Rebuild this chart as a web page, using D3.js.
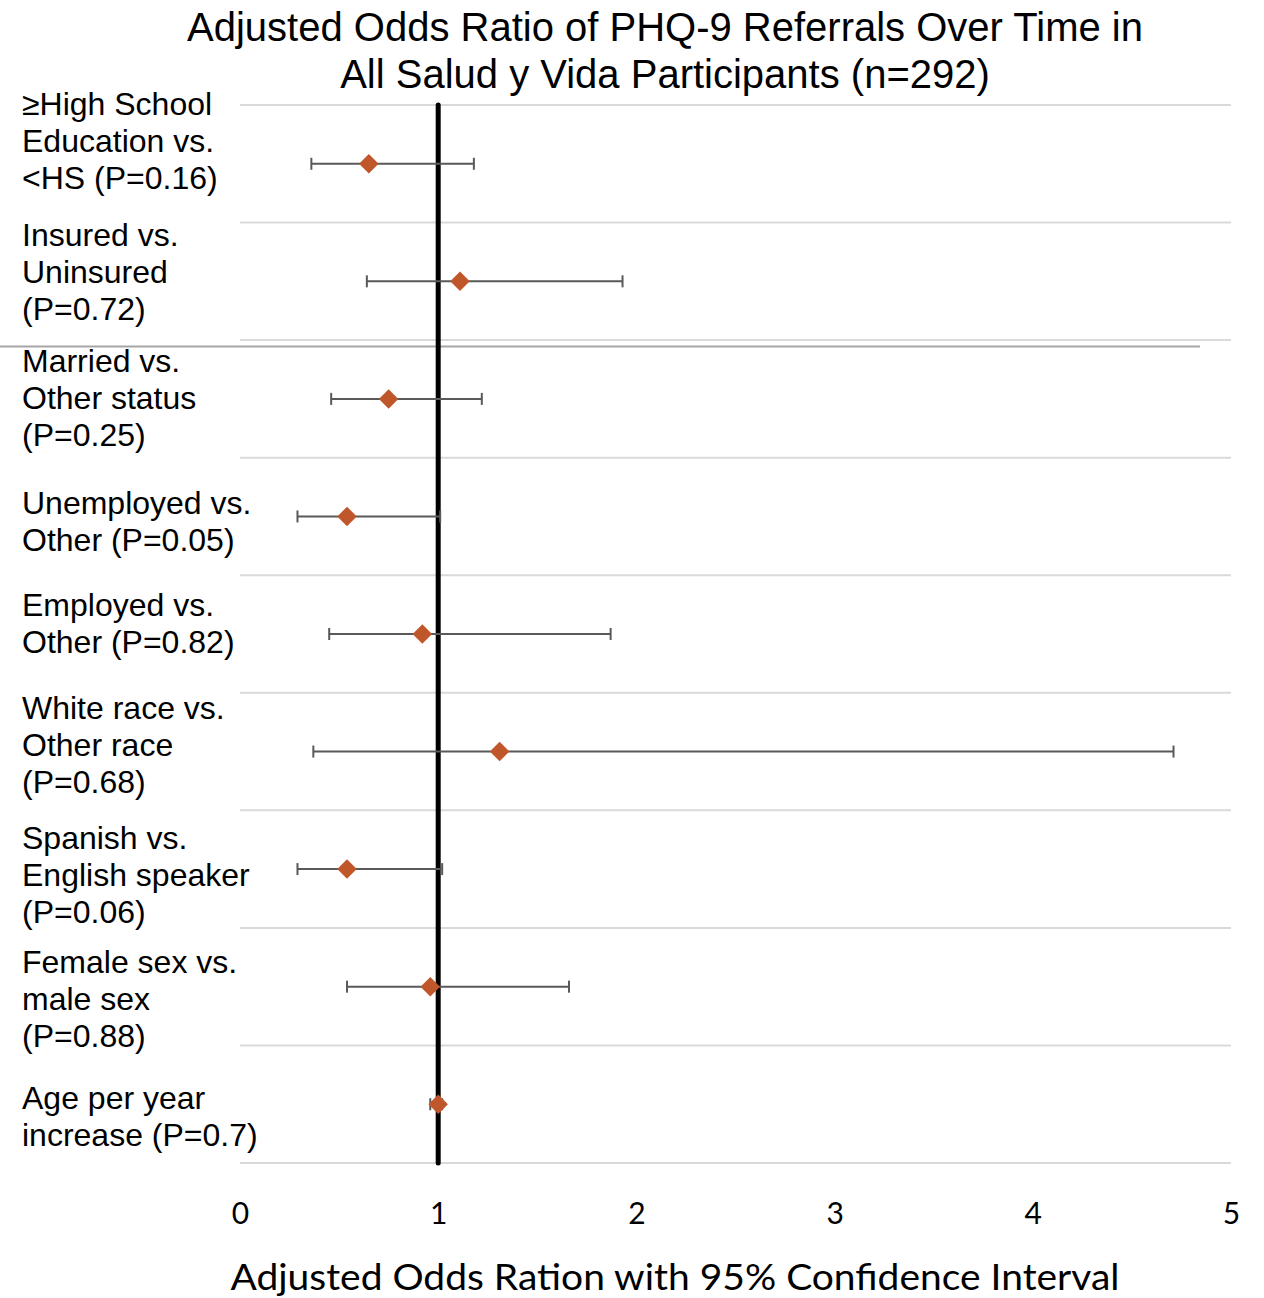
<!DOCTYPE html>
<html>
<head>
<meta charset="utf-8">
<script src="https://cdn.jsdelivr.net/npm/d3@7"></script>
<style>
  html, body { margin: 0; padding: 0; background: #fff; }
  svg { display: block; }
</style>
</head>
<body>
<svg id="chart" width="1264" height="1298"></svg>
<script>
// Predictors, top to bottom, each label split into its display lines
const labels = [
  ["\u2265High School", "Education vs.", "<HS (P=0.16)"],
  ["Insured vs.", "Uninsured", "(P=0.72)"],
  ["Married vs.", "Other status", "(P=0.25)"],
  ["Unemployed vs.", "Other (P=0.05)"],
  ["Employed vs.", "Other (P=0.82)"],
  ["White race vs.", "Other race", "(P=0.68)"],
  ["Spanish vs.", "English speaker", "(P=0.06)"],
  ["Female sex vs.", "male sex", "(P=0.88)"],
  ["Age per year", "increase (P=0.7)"]
];
// Adjusted odds ratios and 95% confidence limits
const oddsRatio = [0.65, 1.11, 0.75, 0.54, 0.92, 1.31, 0.54, 0.96, 1.00];
const ciLower   = [0.36, 0.64, 0.46, 0.29, 0.45, 0.37, 0.29, 0.54, 0.96];
const ciUpper   = [1.18, 1.93, 1.22, 1.01, 1.87, 4.71, 1.02, 1.66, 1.02];
const xTicks = [0, 1, 2, 3, 4, 5];

const titleLines = ["Adjusted Odds Ratio of PHQ-9 Referrals Over Time in",
                    "All Salud y Vida Participants (n=292)"];
const xTitle = "Adjusted Odds Ration with 95% Confidence Interval";

// Layout
const plot = { left: 240, right: 1231, top: 105, bottom: 1163 };
const labelX = 22, lineGap = 37;
// first-line baseline offset of each label block from its row centre
const labelShift = [-49, -35, -27, -2, -18, -33, -20, -14, 5];

const svg = d3.select("#chart");

const x = d3.scaleLinear().domain([0, 5]).range([plot.left, plot.right]);
const y = d3.scaleBand().domain(d3.range(labels.length))
  .range([plot.top, plot.bottom]).paddingInner(0).paddingOuter(0);

// Title
svg.append("g").selectAll("text").data(titleLines).join("text")
  .attr("x", 665).attr("y", (d, i) => 41 + i * 47)
  .attr("text-anchor", "middle")
  .attr("font-family", "'Liberation Sans', Arial, sans-serif")
  .attr("font-size", 40).attr("fill", "#000")
  .text(d => d);

// Row separators
const bounds = d3.range(labels.length + 1).map(i =>
  i < labels.length ? y(i) : y(labels.length - 1) + y.bandwidth());
svg.append("g").selectAll("line").data(bounds).join("line")
  .attr("x1", plot.left).attr("x2", plot.right)
  .attr("y1", d => d).attr("y2", d => d)
  .attr("stroke", "#d9d9d9").attr("stroke-width", 2);

// stray divider under the second row
svg.append("line")
  .attr("x1", 0).attr("x2", 1200)
  .attr("y1", 346.5).attr("y2", 346.5)
  .attr("stroke", "#a6a6a6").attr("stroke-width", 2);

// Reference line at OR = 1
svg.append("line")
  .attr("x1", x(1)).attr("x2", x(1))
  .attr("y1", plot.top).attr("y2", plot.bottom)
  .attr("stroke", "#000").attr("stroke-width", 5)
  .attr("stroke-linecap", "round");

// Confidence intervals
const rows = labels.map((l, i) => ({ i, or: oddsRatio[i], lo: ciLower[i], hi: ciUpper[i] }));
const cy = d => y(d.i) + y.bandwidth() / 2;
const ci = svg.append("g").attr("stroke", "#595959").attr("stroke-width", 2);
ci.selectAll(".bar").data(rows).join("line")
  .attr("x1", d => x(d.lo)).attr("x2", d => x(d.hi))
  .attr("y1", cy).attr("y2", cy);
ci.selectAll(".capL").data(rows).join("line")
  .attr("x1", d => x(d.lo)).attr("x2", d => x(d.lo))
  .attr("y1", d => cy(d) - 6).attr("y2", d => cy(d) + 6);
ci.selectAll(".capR").data(rows).join("line")
  .attr("x1", d => x(d.hi)).attr("x2", d => x(d.hi))
  .attr("y1", d => cy(d) - 6).attr("y2", d => cy(d) + 6);

// Point estimates
svg.append("g").selectAll("path").data(rows).join("path")
  .attr("transform", d => `translate(${x(d.or)},${cy(d)}) rotate(45)`)
  .attr("d", d3.symbol().type(d3.symbolSquare).size(190))
  .attr("fill", "#c0572b");

// Row labels
const lab = svg.append("g")
  .attr("font-family", "'Liberation Sans', Arial, sans-serif")
  .attr("font-size", 32).attr("fill", "#000");
labels.forEach((lines, i) => {
  const t = lab.append("text").attr("x", labelX)
    .attr("y", y(i) + y.bandwidth() / 2 + labelShift[i]);
  lines.forEach((s, k) => {
    t.append("tspan").attr("x", labelX).attr("dy", k === 0 ? 0 : lineGap).text(s);
  });
});

// X axis tick labels
const xAxis = d3.axisBottom(x).tickValues(xTicks).tickSize(0).tickPadding(0)
  .tickFormat(d3.format("d"));
const ax = svg.append("g").attr("transform", `translate(0,${plot.bottom})`).call(xAxis);
ax.select(".domain").remove();
ax.selectAll("text")
  .attr("dy", null).attr("y", 61)
  .attr("font-family", "Lato, 'Open Sans', sans-serif")
  .attr("font-size", 30).attr("fill", "#000");

// X axis title
svg.append("text")
  .attr("x", 675).attr("y", 1290)
  .attr("text-anchor", "middle")
  .attr("font-family", "Lato, 'Open Sans', sans-serif")
  .attr("font-size", 36).attr("fill", "#000")
  .attr("textLength", 889).attr("lengthAdjust", "spacingAndGlyphs")
  .text(xTitle);
</script>
</body>
</html>
